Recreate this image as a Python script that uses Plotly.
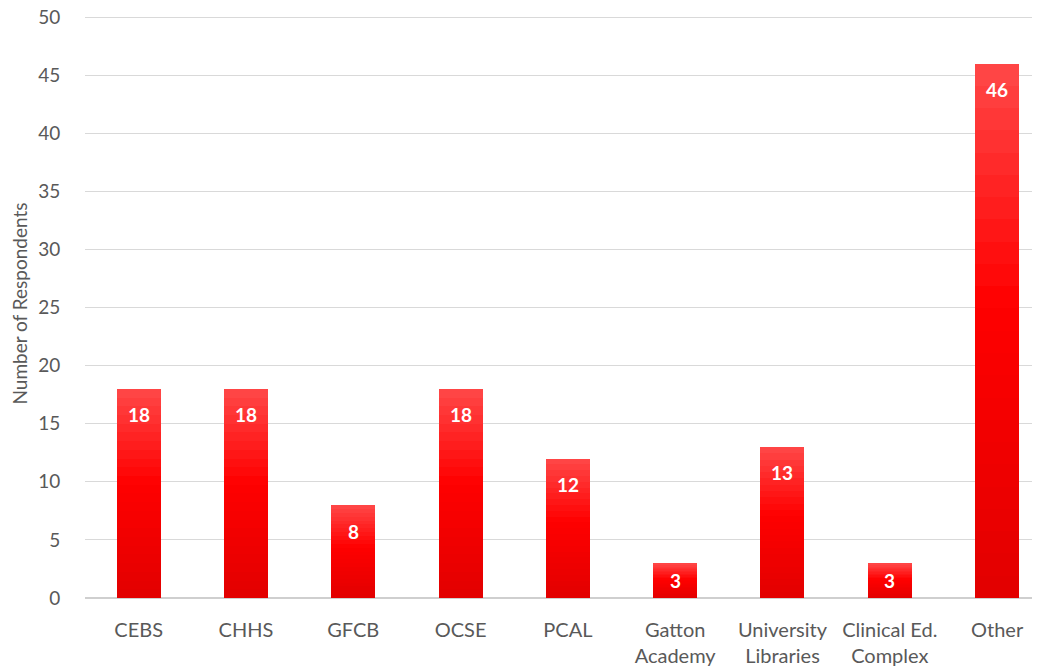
import plotly.graph_objects as go

categories = ["CEBS", "CHHS", "GFCB", "OCSE", "PCAL", "Gatton<br>Academy",
              "University<br>Libraries", "Clinical Ed.<br>Complex", "Other"]
values = [18, 18, 8, 18, 12, 3, 13, 3, 46]
y_ticks = [0, 5, 10, 15, 20, 25, 30, 35, 40, 45, 50]

N = 24  # gradient slices per bar


def lerp(c1, c2, t):
    return tuple(round(a + (b - a) * t) for a, b in zip(c1, c2))


top_c = (255, 72, 72)
mid_c = (255, 0, 0)
bot_c = (226, 0, 0)


def color_at(f):  # f = 0 bottom, 1 top
    if f > 0.55:
        c = lerp(mid_c, top_c, (f - 0.55) / 0.45)
    else:
        c = lerp(bot_c, mid_c, f / 0.55)
    return "rgb(%d,%d,%d)" % c


FONT = "Lato"
Y_TOP = 50.69
PLOT_H = 671 - 1 - 81
PX_PER_UNIT = PLOT_H / Y_TOP
LABEL_OFFSET = 26  # px below bar top (label centre)

x_idx = list(range(len(categories)))
fig = go.Figure()
for i in range(N):
    f = (i + 0.5) / N
    fig.add_trace(go.Bar(
        x=x_idx, y=[v / N for v in values],
        marker=dict(color=color_at(f), line=dict(width=0)),
        width=0.41, hoverinfo="skip", showlegend=False,
    ))

for xi, v in zip(x_idx, values):
    if v / 2 * PX_PER_UNIT < LABEL_OFFSET:
        ya, ys = v / 2, 0
    else:
        ya, ys = v, -LABEL_OFFSET
    fig.add_annotation(x=xi, y=ya, text="<b>%d</b>" % v, showarrow=False,
                       yanchor="middle", yshift=ys,
                       font=dict(family=FONT, size=19, color="white"))

fig.update_layout(
    barmode="stack", bargap=0,
    width=1040, height=671,
    margin=dict(l=77, r=8, t=1, b=81, autoexpand=False),
    plot_bgcolor="white", paper_bgcolor="white",
    font=dict(family=FONT, color="#595959"),
    xaxis=dict(
        tickmode="array", tickvals=x_idx, ticktext=categories,
        range=[-0.5, 8.4], showgrid=False, zeroline=False,
        ticks="outside", ticklen=14, tickcolor="rgba(0,0,0,0)",
        tickfont=dict(size=20, color="#595959"),
        showline=False, automargin=False,
    ),
    yaxis=dict(
        range=[0, Y_TOP], tickvals=y_ticks,
        showgrid=True, gridcolor="#d9d9d9", gridwidth=1,
        zeroline=True, zerolinecolor="#cfcfcf", zerolinewidth=1.5,
        ticks="outside", ticklen=20, tickcolor="rgba(0,0,0,0)",
        ticklabeloverflow="allow", automargin=False,
        tickfont=dict(size=19, color="#595959"),
        title=dict(text="Number of Respondents", standoff=8,
                   font=dict(size=19, color="#595959")),
    ),
)

fig.write_html("out.html")
